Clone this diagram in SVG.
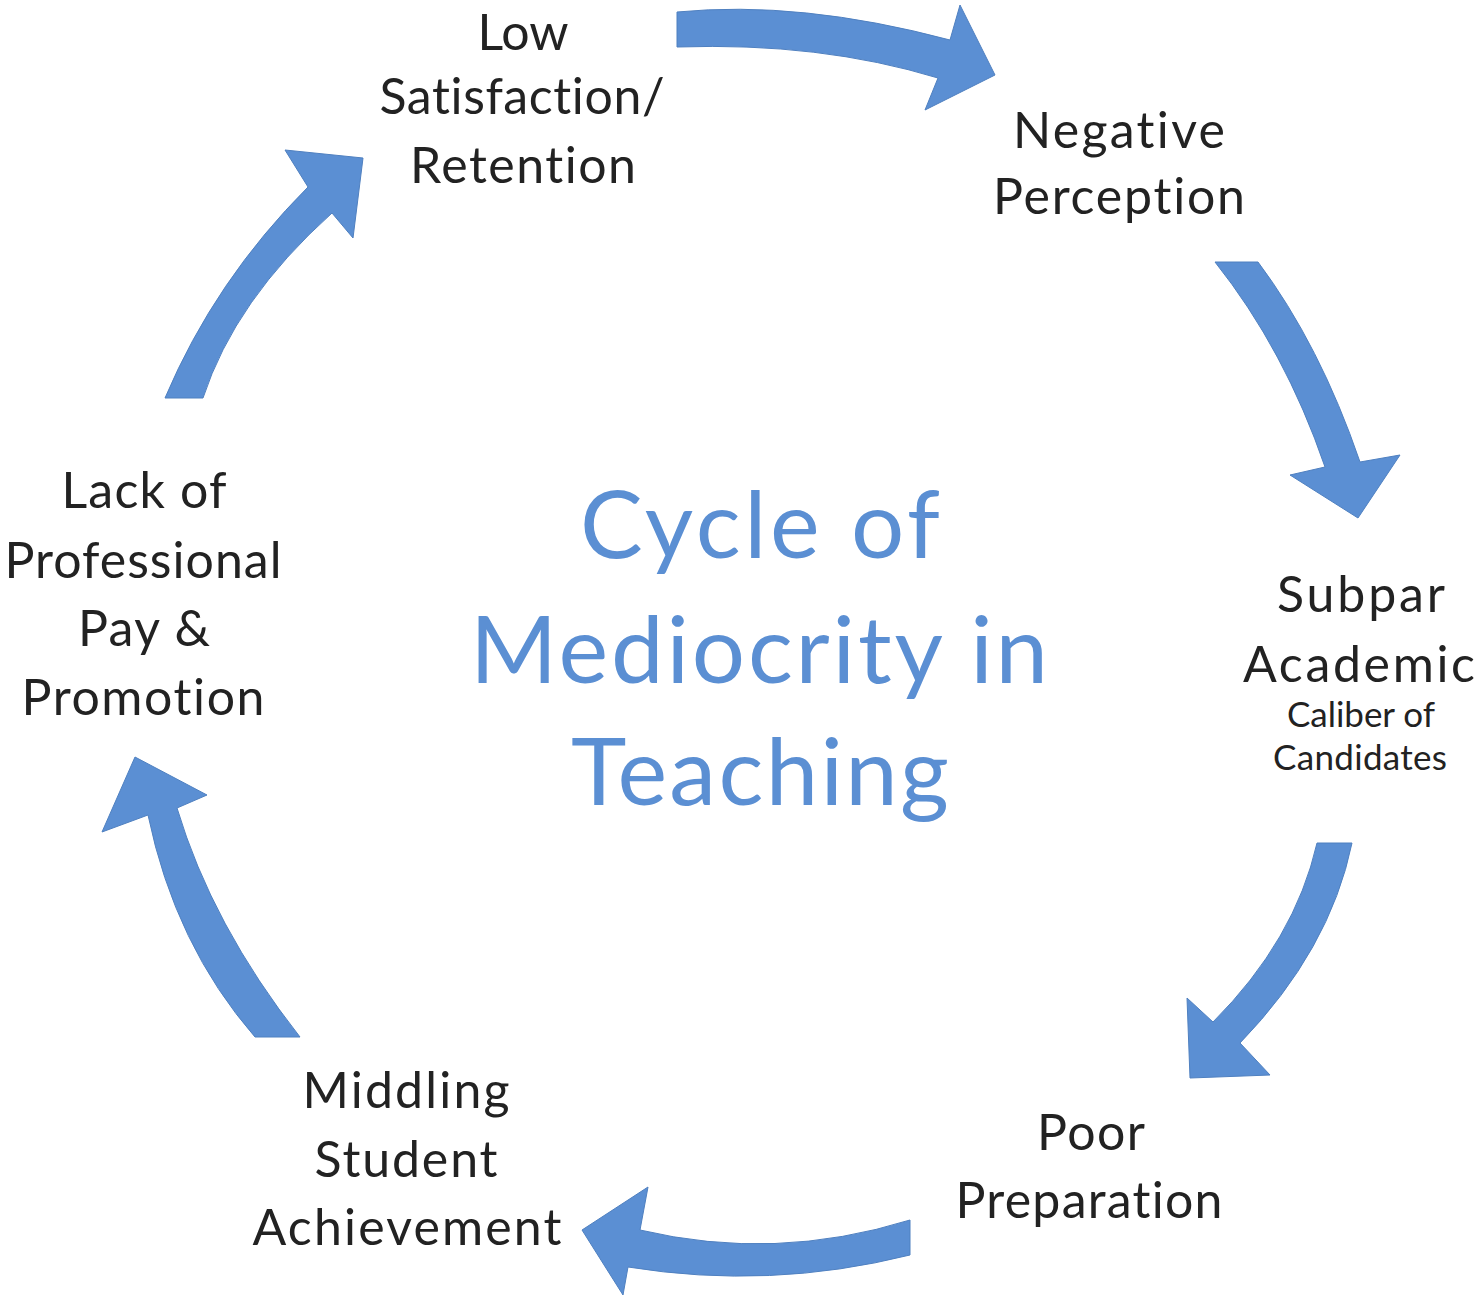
<svg xmlns="http://www.w3.org/2000/svg" width="1480" height="1303" viewBox="0 0 1480 1303">
<style>
.lbl{font-family:Lato,"Noto Sans","Liberation Sans",sans-serif;font-size:50px;fill:#222;text-anchor:middle;font-variant-ligatures:none}
.sm{font-size:35px}
.title{font-family:Lato,"Noto Sans","Liberation Sans",sans-serif;font-size:94px;fill:#5B8FD3;text-anchor:middle;font-variant-ligatures:none}
.arr{fill:#5B8FD3;stroke:#4F80C0;stroke-width:1}
</style>
<rect width="1480" height="1303" fill="#fff"/>
<g id="connectors">
<path class="arr" d="M677,12 Q800,0 950,40 L960,5 L995,75 L925,110 L938,78 Q820,42 677,47 Z"/>
<path class="arr" d="M1215,262 L1258,262 Q1320,345 1360,462 L1400,455 L1358,518 L1290,475 L1325,467 Q1285,350 1215,262 Z"/>
<path class="arr" d="M1317,843 L1352,843 Q1330,950 1240,1043 L1270,1075 L1190,1078 L1187,998 L1213,1022 Q1295,940 1317,843 Z"/>
<path class="arr" d="M910,1220 Q775,1262 640,1230 L648,1187 L582,1230 L623,1295 L628,1267 Q770,1290 910,1255 Z"/>
<path class="arr" d="M255,1037 L300,1037 Q212,925 177,808 L207,795 L135,757 L102,832 L148,815 Q175,945 255,1037 Z"/>
<path class="arr" d="M165,398 L203,398 Q235,300 332,213 L353,238 L363,158 L285,150 L308,187 Q215,280 165,398 Z"/>
</g>
<g id="title">
<text class="title" x="760" y="558" textLength="360">Cycle of</text>
<text class="title" x="759" y="683" textLength="578">Mediocrity in</text>
<text class="title" x="760" y="805" textLength="378">Teaching</text>
</g>
<g id="node-low-satisfaction">
<text class="lbl" x="523" y="50">Low</text>
<text class="lbl" x="522" y="114" textLength="285">Satisfaction/</text>
<text class="lbl" x="523" y="183" textLength="226">Retention</text>
</g>
<g id="node-negative-perception">
<text class="lbl" x="1119" y="148" textLength="212">Negative</text>
<text class="lbl" x="1119" y="214" textLength="252">Perception</text>
</g>
<g id="node-subpar-academic">
<text class="lbl" x="1361" y="612" textLength="168">Subpar</text>
<text class="lbl" x="1359" y="682" textLength="232">Academic</text>
<text class="lbl sm" x="1361" y="727" textLength="148">Caliber of</text>
<text class="lbl sm" x="1360" y="770" textLength="174">Candidates</text>
</g>
<g id="node-poor-preparation">
<text class="lbl" x="1091" y="1150" textLength="108">Poor</text>
<text class="lbl" x="1089" y="1218" textLength="267">Preparation</text>
</g>
<g id="node-middling">
<text class="lbl" x="406" y="1108" textLength="207">Middling</text>
<text class="lbl" x="406" y="1177" textLength="183">Student</text>
<text class="lbl" x="407" y="1245" textLength="309">Achievement</text>
</g>
<g id="node-lack-of-pay">
<text class="lbl" x="144" y="508" textLength="165">Lack of</text>
<text class="lbl" x="143" y="578" textLength="277">Professional</text>
<text class="lbl" x="144" y="646" textLength="132">Pay &amp;</text>
<text class="lbl" x="143" y="715" textLength="243">Promotion</text>
</g>
</svg>
